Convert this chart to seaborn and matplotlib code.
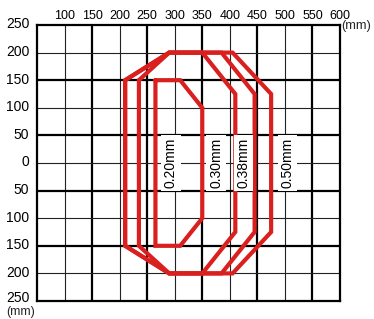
import pandas as pd
import matplotlib
import seaborn as sns
from matplotlib import pyplot as plt
from matplotlib import transforms
from matplotlib import font_manager
matplotlib.use('Agg')

# wire diameters and the outline of each reading field (mm)
wires = ['0.20mm', '0.30mm', '0.38mm', '0.50mm']
x_020 = [265, 310, 350, 350, 310, 265, 265]
y_020 = [150, 150, 100, -100, -150, -150, 150]
x_030 = [235, 290, 350, 410, 410, 350, 290, 235, 235]
y_030 = [150, 200, 200, 125, -125, -200, -200, -150, 150]
x_038 = [210, 290, 385, 445, 445, 385, 290, 210, 210]
y_038 = [150, 200, 200, 125, -125, -200, -200, -150, 150]
x_050 = [210, 290, 405, 475, 475, 405, 290, 210, 210]
y_050 = [150, 200, 200, 125, -125, -200, -200, -150, 150]

# label positions (x, y) for each wire
label_x = [293, 375, 425, 505]
label_y = [0, 0, 0, 0]

x_ticks = [100, 150, 200, 250, 300, 350, 400, 450, 500, 550, 600]
y_ticks = [250, 200, 150, 100, 50, 0, -50, -100, -150, -200, -250]
y_ticklabels = ['250', '200', '150', '100', '50', '0', '50', '100', '150', '200', '250']

frames = []
for name, xs, ys in zip(wires, [x_020, x_030, x_038, x_050], [y_020, y_030, y_038, y_050]):
    frames.append(pd.DataFrame({'wire': name, 'x': xs, 'y': ys}))
df = pd.concat(frames, ignore_index=True)

sns.set_theme(style='white')
plt.rcParams['font.family'] = ['Liberation Sans', 'DejaVu Sans']

# narrow face for the top scale if it is there
names = {f.name for f in font_manager.fontManager.ttflist}
narrow = 'Liberation Sans Narrow' if 'Liberation Sans Narrow' in names else 'Liberation Sans'

red = '#d9201f'
fig = plt.figure(figsize=(3.74, 3.19), dpi=100)
ax = fig.add_axes([37 / 374, 1 - 301 / 319, 303 / 374, 276 / 319])

# grid: thin at 100s, thick at odd 50s
for gx in [100, 200, 300, 400, 500]:
    ax.axvline(gx, color='#222222', lw=0.8, zorder=1)
for gx in [150, 250, 350, 450, 550]:
    ax.axvline(gx, color='black', lw=1.6, zorder=1)
for gy in [200, 100, 0, -100, -200]:
    ax.axhline(gy, color='#222222', lw=0.8, zorder=1)
for gy in [150, 50, -50, -150]:
    ax.axhline(gy, color='black', lw=1.6, zorder=1)

sns.lineplot(data=df, x='x', y='y', units='wire', estimator=None, sort=False,
             color=red, lw=3, legend=False, ax=ax, zorder=3,
             solid_joinstyle='miter')

for name, lx, ly in zip(wires, label_x, label_y):
    ax.text(lx, ly, name, rotation=90, ha='center', va='center', fontsize=10,
            color='black', zorder=4,
            bbox=dict(boxstyle='square,pad=0.2', fc='white', ec='none'))

ax.set_xlim(50, 600)
ax.set_ylim(-250, 250)
ax.set_xlabel('')
ax.set_ylabel('')
ax.xaxis.tick_top()
ax.set_xticks(x_ticks)
ax.set_yticks(y_ticks)
ax.set_yticklabels(y_ticklabels)
ax.tick_params(axis='x', length=0, pad=2, labelsize=9, colors='black')
ax.tick_params(axis='y', length=0, pad=5.5, labelsize=10, colors='black')
for lab in ax.get_xticklabels():
    lab.set_family([narrow, 'DejaVu Sans'])
# y labels sit a little above their lines, the bottom one more so
ylabs = ax.get_yticklabels()
for i, lab in enumerate(ylabs):
    up = 4 if i == len(ylabs) - 1 else 2
    shift = transforms.ScaledTranslation(0, up / 100, fig.dpi_scale_trans)
    lab.set_transform(lab.get_transform() + shift)

for s in ax.spines.values():
    s.set_visible(True)
    s.set_color('black')
    s.set_linewidth(1.6)
    s.set_zorder(5)

ax.text(1.005, 0.995, '(mm)', transform=ax.transAxes, ha='left', va='center',
        fontsize=9.3)
ax.text(-0.008, -0.04, '(mm)', transform=ax.transAxes, ha='right', va='center',
        fontsize=9)

plt.savefig('out.png', dpi=100)
